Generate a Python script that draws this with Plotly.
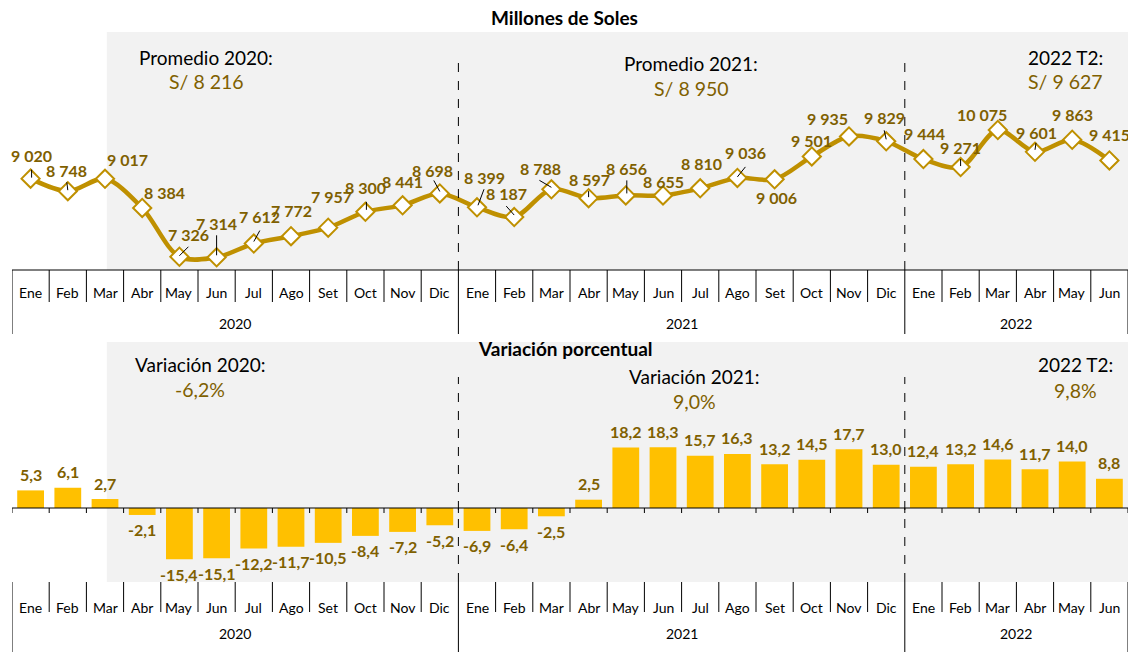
import plotly.graph_objects as go

# ---------------- data ----------------
months = ["Ene", "Feb", "Mar", "Abr", "May", "Jun", "Jul", "Ago", "Set", "Oct", "Nov", "Dic",
          "Ene", "Feb", "Mar", "Abr", "May", "Jun", "Jul", "Ago", "Set", "Oct", "Nov", "Dic",
          "Ene", "Feb", "Mar", "Abr", "May", "Jun"]
years = ["2020", "2021", "2022"]
months_per_year = [12, 12, 6]

soles = [9020, 8748, 9017, 8384, 7326, 7314, 7612, 7772, 7957, 8300, 8441, 8698,
         8399, 8187, 8788, 8597, 8656, 8655, 8810, 9036, 9006, 9501, 9935, 9829,
         9444, 9271, 10075, 9601, 9863, 9415]

variacion = [5.3, 6.1, 2.7, -2.1, -15.4, -15.1, -12.2, -11.7, -10.5, -8.4, -7.2, -5.2,
             -6.9, -6.4, -2.5, 2.5, 18.2, 18.3, 15.7, 16.3, 13.2, 14.5, 17.7, 13.0,
             12.4, 13.2, 14.6, 11.7, 14.0, 8.8]

promedio_titles = ["Promedio 2020:", "Promedio 2021:", "2022 T2:"]
promedio_values = ["S/ 8 216", "S/ 8 950", "S/ 9 627"]
variacion_titles = ["Variación 2020:", "Variación 2021:", "2022 T2:"]
variacion_values = ["-6,2%", "9,0%", "9,8%"]

# ---------------- styling / layout helpers ----------------
W, H = 1128, 652
FONT = "Lato"
GOLD = "#BF9000"
DARK_GOLD = "#7F6000"
BAR = "#FFC000"
GRAY = "#F2F2F2"

def py(px):  # pixel row -> paper fraction
    return 1 - px / H

# label pixel offsets (dx, dy) relative to each marker (dy: + = downward)
label_offsets = [(1, -23), (-1, -21), (22, -19), (22, -15), (9, -22), (0, -34), (6, -27), (0, -26),
                 (3, -31), (0, -24), (0, -24), (-7, -23), (7, -30), (-8, -24), (-11, -21), (1, -19),
                 (1, -27), (0, -14), (1, -25), (8, -25), (2, 18), (0, -16), (-22, -18), (-2, -24),
                 (1, -26), (0, -20), (-16, -15), (1, -19), (0, -25), (0, -26)]

# leader lines: marker index -> (x1, y1, x2, y2) pixel offsets from marker centre (y: + = downward)
leader_lines = {0: (1, -1, 1, -9), 1: (0, -1, -1, -9), 4: (0, -1, 9, -10), 5: (0, -2, 0, -22),
                6: (0, -2, 6, -13), 9: (1, -2, 1, -10), 11: (0, -2, -6, -13), 12: (1, -2, 7, -18),
                13: (0, -2, -8, -11), 14: (0, -2, -12, -9), 15: (0, -1, 0, -7), 16: (1, -2, 1, -15),
                19: (0, -1, 8, -11), 23: (0, -2, -2, -11), 25: (0, -1, 0, -8), 27: (0, -2, 1, -9)}

n = len(months)
idx = list(range(n))

fig = go.Figure()

fig.add_trace(go.Scatter(
    x=idx, y=soles, xaxis="x", yaxis="y", mode="lines+markers",
    line=dict(color=GOLD, width=4.5, shape="spline", smoothing=0.9),
    marker=dict(symbol="diamond", size=14, color="white", line=dict(color=GOLD, width=2)),
    hoverinfo="skip", showlegend=False, cliponaxis=False,
))

fig.add_trace(go.Bar(
    x=idx, y=variacion, xaxis="x2", yaxis="y2", marker=dict(color=BAR, line=dict(width=0)),
    width=0.72, hoverinfo="skip", showlegend=False,
))

annotations = []
shapes = []

# soles data labels
for i, v in enumerate(soles):
    dx, dy = label_offsets[i]
    annotations.append(dict(
        x=i, y=v, xref="x", yref="y", text=f"{v:,}".replace(",", " "),
        showarrow=False, xshift=dx, yshift=-dy, xanchor="center", yanchor="middle",
        font=dict(family=FONT, size=16, color=DARK_GOLD, weight="bold"),
    ))

# leader lines (anchored on the data point, drawn in pixels)
for i, (x1, y1, x2, y2) in leader_lines.items():
    shapes.append(dict(type="line", xref="x", yref="y", xsizemode="pixel", ysizemode="pixel",
                       xanchor=i, yanchor=soles[i], x0=x1, x1=x2, y0=-y1, y1=-y2,
                       line=dict(color="black", width=1), layer="above"))

# variacion data labels
for i, v in enumerate(variacion):
    annotations.append(dict(
        x=i, y=v, xref="x2", yref="y2", text=f"{v:.1f}".replace(".", ","),
        showarrow=False, yshift=16 if v >= 0 else -15, xanchor="center", yanchor="middle",
        font=dict(family=FONT, size=16, color=DARK_GOLD, weight="bold"),
    ))

# gray backgrounds
shapes.append(dict(type="rect", xref="x", yref="paper", x0=2.05, x1=n - 0.5,
                   y0=py(270), y1=py(32), fillcolor=GRAY, line=dict(width=0), layer="below"))
shapes.append(dict(type="rect", xref="x", yref="paper", x0=2.05, x1=n - 0.5,
                   y0=py(582), y1=py(342), fillcolor=GRAY, line=dict(width=0), layer="below"))

# top axis line
shapes.append(dict(type="line", xref="x", yref="paper", x0=-0.5, x1=n - 0.5,
                   y0=py(270), y1=py(270), line=dict(color="black", width=1)))
# bottom zero line
shapes.append(dict(type="line", xref="x2", yref="y2", x0=-0.5, x1=n - 0.5,
                   y0=0, y1=0, line=dict(color="black", width=1)))

year_bounds = [0]
for m in months_per_year:
    year_bounds.append(year_bounds[-1] + m)

for k in range(n + 1):
    xb = k - 0.5
    is_year = k in year_bounds
    # top category separators
    shapes.append(dict(type="line", xref="x", yref="paper", x0=xb, x1=xb,
                       y0=py(334 if is_year else 302), y1=py(270),
                       line=dict(color="black", width=1)))
    # bottom: small ticks at zero
    shapes.append(dict(type="line", xref="x2", yref="paper", x0=xb, x1=xb,
                       y0=py(513), y1=py(508), line=dict(color="black", width=1)))
    # bottom category separators
    shapes.append(dict(type="line", xref="x2", yref="paper", x0=xb, x1=xb,
                       y0=py(652 if is_year else 612), y1=py(582),
                       line=dict(color="black", width=1)))

# dashed year dividers
for b in year_bounds[1:-1]:
    shapes.append(dict(type="line", xref="x", yref="paper", x0=b - 0.5, x1=b - 0.5,
                       y0=py(270), y1=py(57), line=dict(color="black", width=1, dash="dash")))
    shapes.append(dict(type="line", xref="x2", yref="paper", x0=b - 0.5, x1=b - 0.5,
                       y0=py(582), y1=py(377), line=dict(color="black", width=1, dash="dash")))

# month & year labels
for i, m in enumerate(months):
    for yy, xr in ((292, "x"), (607, "x2")):
        annotations.append(dict(x=i, y=py(yy), xref=xr, yref="paper", text=m, showarrow=False,
                                xanchor="center", yanchor="middle",
                                font=dict(family=FONT, size=14, color="black")))
for j, yr in enumerate(years):
    cx = (year_bounds[j] + year_bounds[j + 1] - 1) / 2
    for yy, xr in ((323, "x"), (633, "x2")):
        annotations.append(dict(x=cx, y=py(yy), xref=xr, yref="paper", text=yr, showarrow=False,
                                xanchor="center", yanchor="middle",
                                font=dict(family=FONT, size=14, color="black")))

# titles
annotations.append(dict(x=564 / W, y=py(18), xref="paper", yref="paper", text="<b>Millones de Soles</b>",
                        showarrow=False, xanchor="center", yanchor="middle",
                        font=dict(family=FONT, size=19, color="black")))
annotations.append(dict(x=565 / W, y=py(348), xref="paper", yref="paper", text="<b>Variación porcentual</b>",
                        showarrow=False, xanchor="center", yanchor="middle",
                        font=dict(family=FONT, size=19, color="black")))

# summary boxes
prom_pos = [(206, 57, 82), (691, 63, 88), (1065, 57, 82)]
var_pos = [(200, 364, 389), (694, 376, 401), (1075, 364, 390)]
for (t, v, (xp, y1, y2)) in list(zip(promedio_titles, promedio_values, prom_pos)) + \
        list(zip(variacion_titles, variacion_values, var_pos)):
    annotations.append(dict(x=xp / W, y=py(y1), xref="paper", yref="paper", text=t, showarrow=False,
                            xanchor="center", yanchor="middle",
                            font=dict(family=FONT, size=19, color="black")))
    annotations.append(dict(x=xp / W, y=py(y2), xref="paper", yref="paper", text=v, showarrow=False,
                            xanchor="center", yanchor="middle",
                            font=dict(family=FONT, size=19.5, color=DARK_GOLD)))

x_dom = [12 / W, 1]
fig.update_layout(
    width=W, height=H, margin=dict(l=0, r=0, t=0, b=0),
    paper_bgcolor="white", plot_bgcolor="rgba(0,0,0,0)",
    xaxis=dict(domain=x_dom, range=[-0.5, n - 0.5], visible=False, anchor="y"),
    yaxis=dict(domain=[py(270), py(32)], range=[7038.6, 12200], visible=False, anchor="x"),
    xaxis2=dict(domain=x_dom, range=[-0.5, n - 0.5], visible=False, anchor="y2"),
    yaxis2=dict(domain=[py(582), py(342)], range=[-22.29, 50.0], visible=False, anchor="x2"),
    shapes=shapes, annotations=annotations, bargap=0.28,
    font=dict(family=FONT),
)

fig.write_html("out.html", config={"displayModeBar": False},
               post_script="document.body.style.margin='0px';document.body.style.overflow='hidden';")
